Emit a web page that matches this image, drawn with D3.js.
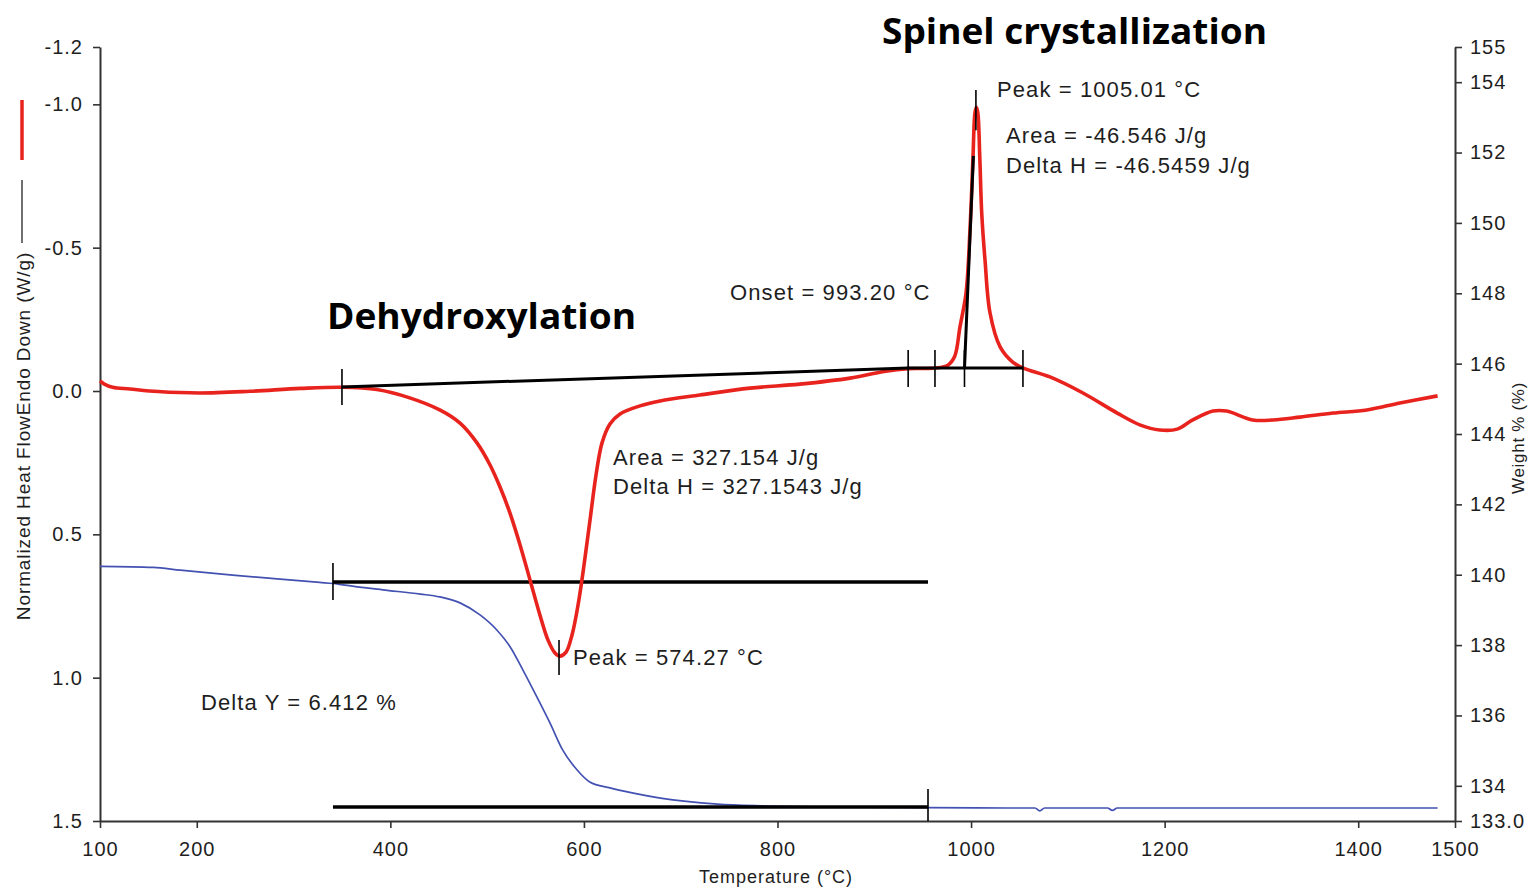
<!DOCTYPE html>
<html><head><meta charset="utf-8">
<script src="https://cdn.jsdelivr.net/npm/d3@7"></script>
<style>
html,body{margin:0;padding:0;background:#fff;overflow:hidden}
svg{display:block}
</style></head><body>
<svg id="chart" width="1530" height="888"></svg>
<script>
// ---------- data ----------
const xTicks = [100, 200, 400, 600, 800, 1000, 1200, 1400, 1500];
const leftTicks = [-1.2, -1.0, -0.5, 0.0, 0.5, 1.0, 1.5];
const rightTicks = [133, 134, 136, 138, 140, 142, 144, 146, 148, 150, 152, 154, 155];
const rightTickLabels = ["133.0", "134", "136", "138", "140", "142", "144", "146", "148", "150", "152", "154", "155"];

// DSC heat flow (W/g, endo down => positive plotted downward)
const dscTemp = [100, 104, 113, 131, 160, 203, 255, 307, 350, 386, 420, 451, 472, 489.5, 503, 513.3, 523.6, 534, 544.3, 554.6, 562.9, 570.1, 575.3, 581.5, 587.7, 593.9, 600.1, 606.3, 612.5, 618.7, 626.9, 637.3, 657.9, 678.6, 719.9, 771.6, 823, 875, 910, 935, 963, 976, 983, 988.5, 994.8, 999, 1002, 1004, 1005.5, 1007, 1009, 1011, 1014.4, 1019.6, 1030, 1043, 1054, 1081.5, 1115.6, 1151, 1175, 1195, 1213, 1229, 1250, 1264, 1291, 1312, 1340, 1374, 1409, 1443, 1482];
const dscHeatFlow = [-0.035, -0.025, -0.013, -0.007, 0.002, 0.007, 0.001, -0.009, -0.013, -0.005, 0.024, 0.066, 0.112, 0.181, 0.258, 0.335, 0.426, 0.537, 0.659, 0.782, 0.869, 0.914, 0.925, 0.911, 0.851, 0.747, 0.607, 0.450, 0.293, 0.181, 0.115, 0.080, 0.052, 0.035, 0.014, -0.010, -0.024, -0.045, -0.068, -0.078, -0.080, -0.09, -0.12, -0.223, -0.342, -0.572, -0.816, -0.97, -0.99, -0.97, -0.816, -0.621, -0.457, -0.272, -0.154, -0.101, -0.080, -0.049, 0.007, 0.077, 0.119, 0.136, 0.133, 0.101, 0.070, 0.070, 0.101, 0.101, 0.091, 0.077, 0.066, 0.042, 0.017];

// TGA weight (%)
const tgaTemp = [100, 155, 183, 237, 283, 327, 341, 351, 392, 431, 451, 472, 493, 510, 524, 537, 551.5, 565, 578, 593, 606, 627, 651, 679, 738, 784, 850, 955, 1040, 1060, 1066, 1071, 1076, 1090, 1110, 1130, 1141, 1146, 1151, 1170, 1200, 1250, 1300, 1350, 1400, 1450, 1482];
const tgaWeight = [140.24, 140.21, 140.13, 139.99, 139.88, 139.78, 139.75, 139.71, 139.57, 139.45, 139.37, 139.20, 138.85, 138.43, 137.94, 137.29, 136.52, 135.78, 135.02, 134.45, 134.11, 133.94, 133.79, 133.65, 133.48, 133.43, 133.40, 133.38, 133.37, 133.37, 133.37, 133.29, 133.37, 133.37, 133.37, 133.37, 133.37, 133.30, 133.37, 133.37, 133.37, 133.37, 133.37, 133.37, 133.37, 133.37, 133.37];

// DSC analysis annotations
const dehydBaselineTemp = [350, 935];
const dehydBaselineFlow = [-0.014, -0.080];
const spinelBaselineTemp = [935, 1053.6];
const spinelBaselineFlow = [-0.080, -0.080];
const dscMarkerTemps = [350, 935, 962.7, 993.2, 1053.6];
const dscMarkerLow = [-0.077, -0.143, -0.143, -0.143, -0.143];
const dscMarkerHigh = [0.049, -0.014, -0.014, -0.014, -0.014];
const onsetTangentTemp = [993.2, 1002.4];
const onsetTangentFlow = [-0.080, -0.82];
const peakTemps = [574.27, 1005.01];
const peakLow = [0.869, -1.05];
const peakHigh = [0.991, -0.91];

// TGA step annotation
const stepTemps = [340.7, 955.5];
const stepLevels = [139.79, 133.40];
const stepMarkerTemps = [340.7, 955.5];
const stepMarkerLow = [139.28, 133.0];
const stepMarkerHigh = [140.33, 133.91];

// texts
const titleLabels = ["Spinel crystallization", "Dehydroxylation"];
const resultLabels = ["Peak = 1005.01 °C", "Area = -46.546 J/g", "Delta H = -46.5459 J/g", "Onset = 993.20 °C",
  "Area = 327.154 J/g", "Delta H = 327.1543 J/g", "Peak = 574.27 °C", "Delta Y = 6.412 %"];
const axisTitles = ["Temperature (°C)", "Normalized Heat FlowEndo Down (W/g)", "Weight % (%)"];

// ---------- drawing ----------
const svg = d3.select("#chart");
const x = d3.scaleLinear().domain([100, 1500]).range([100, 1455]);
const yL = d3.scaleLinear().domain([-1.2, 1.5]).range([47, 821]);
const yR = d3.scaleLinear().domain([155, 133]).range([47, 821]);

const FONT = "'Liberation Sans', Arial, sans-serif";
const txtCol = "#1e1e1e";

function styleAxis(g) {
  g.select(".domain").attr("stroke", "#333").attr("stroke-width", 2);
  g.selectAll(".tick line").attr("stroke", "#333").attr("stroke-width", 1.6);
  g.selectAll(".tick text").attr("fill", txtCol).attr("font-size", 20)
    .attr("font-family", FONT).style("letter-spacing", "1px");
}

svg.append("g").attr("transform", "translate(0,821)")
  .call(d3.axisBottom(x).tickValues(xTicks).tickFormat(d => String(d)).tickSize(7).tickSizeOuter(0).tickPadding(14))
  .call(styleAxis);
svg.append("g").attr("transform", "translate(100,0)")
  .call(d3.axisLeft(yL).tickValues(leftTicks).tickFormat(d => d.toFixed(1)).tickSize(7).tickSizeOuter(0).tickPadding(10))
  .call(styleAxis);
svg.append("g").attr("transform", "translate(1455,0)")
  .call(d3.axisRight(yR).tickValues(rightTicks).tickFormat((d, i) => rightTickLabels[i]).tickSize(7).tickSizeOuter(0).tickPadding(8))
  .call(styleAxis);

// TGA curve
const tgaData = tgaTemp.map((t, i) => [t, tgaWeight[i]]);
svg.append("path").datum(tgaData)
  .attr("fill", "none").attr("stroke", "#4352b2").attr("stroke-width", 1.7)
  .attr("d", d3.line().x(d => x(d[0])).y(d => yR(d[1])).curve(d3.curveMonotoneX));

// TGA step annotation
stepLevels.forEach(w => {
  svg.append("line").attr("x1", x(stepTemps[0])).attr("x2", x(stepTemps[1]))
    .attr("y1", yR(w)).attr("y2", yR(w)).attr("stroke", "#000").attr("stroke-width", 3.5);
});
stepMarkerTemps.forEach((t, i) => {
  svg.append("line").attr("x1", x(t)).attr("x2", x(t))
    .attr("y1", yR(stepMarkerLow[i])).attr("y2", yR(stepMarkerHigh[i])).attr("stroke", "#000").attr("stroke-width", 1.6);
});

// DSC curve
const dscData = dscTemp.map((t, i) => [t, dscHeatFlow[i]]);
svg.append("path").datum(dscData)
  .attr("fill", "none").attr("stroke", "#e8231e").attr("stroke-width", 3.6).attr("stroke-linejoin", "round")
  .attr("d", d3.line().x(d => x(d[0])).y(d => yL(d[1])).curve(d3.curveCatmullRom.alpha(0.5)));

// DSC annotations
const lineL = d3.line().x(d => x(d[0])).y(d => yL(d[1]));
svg.append("path").datum(dehydBaselineTemp.map((t, i) => [t, dehydBaselineFlow[i]]))
  .attr("fill", "none").attr("stroke", "#000").attr("stroke-width", 3).attr("d", lineL);
svg.append("path").datum(spinelBaselineTemp.map((t, i) => [t, spinelBaselineFlow[i]]))
  .attr("fill", "none").attr("stroke", "#000").attr("stroke-width", 3).attr("d", lineL);
svg.append("path").datum(onsetTangentTemp.map((t, i) => [t, onsetTangentFlow[i]]))
  .attr("fill", "none").attr("stroke", "#000").attr("stroke-width", 3).attr("d", lineL);
dscMarkerTemps.forEach((t, i) => {
  svg.append("line").attr("x1", x(t)).attr("x2", x(t))
    .attr("y1", yL(dscMarkerLow[i])).attr("y2", yL(dscMarkerHigh[i])).attr("stroke", "#000").attr("stroke-width", 1.6);
});
peakTemps.forEach((t, i) => {
  svg.append("line").attr("x1", x(t)).attr("x2", x(t))
    .attr("y1", yL(peakLow[i])).attr("y2", yL(peakHigh[i])).attr("stroke", "#000").attr("stroke-width", 1.6);
});

// result labels
const resultPos = [[997, 97], [1006, 143], [1006, 173], [730, 300], [613, 465], [613, 494], [573, 665], [201, 710]];
resultLabels.forEach((s, i) => {
  svg.append("text").attr("x", resultPos[i][0]).attr("y", resultPos[i][1])
    .attr("font-family", FONT).attr("font-size", 22).style("letter-spacing", "1.1px")
    .attr("fill", txtCol).text(s);
});

// bold titles
const titlePos = [[882, 44, 385], [327, 329, 309]];
titleLabels.forEach((s, i) => {
  svg.append("text").attr("x", titlePos[i][0]).attr("y", titlePos[i][1])
    .attr("font-family", "'Open Sans', sans-serif").attr("font-weight", "bold").attr("font-size", 36)
    .attr("textLength", titlePos[i][2]).attr("lengthAdjust", "spacingAndGlyphs")
    .attr("fill", "#000").text(s);
});

// axis titles
svg.append("text").attr("x", 776).attr("y", 883).attr("text-anchor", "middle")
  .attr("font-family", FONT).attr("font-size", 18).style("letter-spacing", "1px")
  .attr("fill", txtCol).text(axisTitles[0]);
svg.append("text").attr("transform", "translate(30,436) rotate(-90)").attr("text-anchor", "middle")
  .attr("font-family", FONT).attr("font-size", 19).style("letter-spacing", "0.9px")
  .attr("fill", txtCol).text(axisTitles[1]);
svg.append("text").attr("transform", "translate(1524,438) rotate(-90)").attr("text-anchor", "middle")
  .attr("font-family", FONT).attr("font-size", 17).style("letter-spacing", "0.7px")
  .attr("fill", txtCol).text(axisTitles[2]);

// legend swatches beside the left axis title
svg.append("line").attr("x1", 22).attr("x2", 22).attr("y1", 100).attr("y2", 160)
  .attr("stroke", "#e8231e").attr("stroke-width", 3.5);
svg.append("line").attr("x1", 22).attr("x2", 22).attr("y1", 180).attr("y2", 243)
  .attr("stroke", "#222").attr("stroke-width", 1.3);
</script>
</body></html>
